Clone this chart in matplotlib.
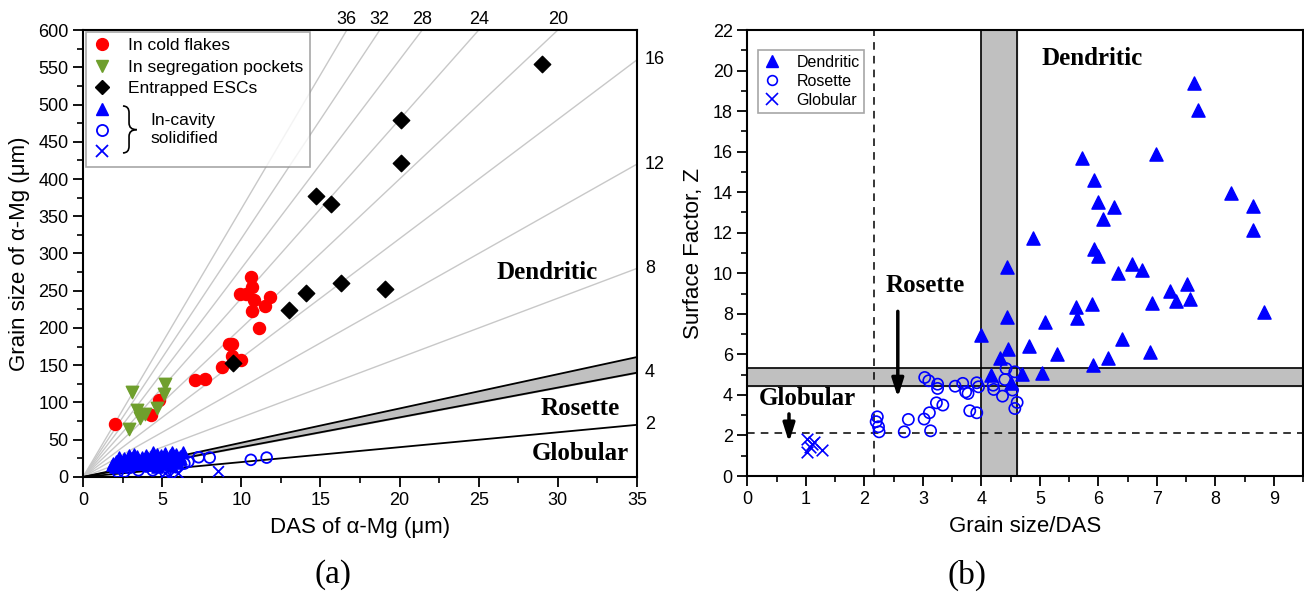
import matplotlib
matplotlib.use("Agg")
import matplotlib.pyplot as plt
from matplotlib.lines import Line2D
from matplotlib.path import Path
from matplotlib.patches import PathPatch
from matplotlib.ticker import MultipleLocator

plt.rcParams['font.family'] = ['Liberation Sans', 'DejaVu Sans']

# ---- (a) grain size vs DAS ----
cold_das = [2.0, 4.3, 4.8, 7.7, 8.8, 9.2, 9.4, 9.4, 10.0, 11.1, 10.6, 10.7, 9.9, 10.3, 10.8, 11.8, 11.5, 10.65, 7.1]
cold_grain = [71, 83, 104, 132, 148, 178, 178, 163, 157, 200, 268, 255, 246, 246, 238, 241, 229, 223, 130]

seg_das = [3.1, 2.9, 3.4, 3.6, 3.9, 4.65, 5.1, 5.2]
seg_grain = [114, 64, 90, 79, 85, 93, 112, 125]

esc_das = [9.5, 13.0, 14.1, 16.3, 19.1, 14.7, 15.65, 20.1, 20.1, 29.0]
esc_grain = [153, 224, 247, 260, 253, 377, 367, 479, 422, 555]

cav_tri_das = [1.8, 1.9, 2.0, 2.1, 2.2, 2.3, 2.4, 2.5, 2.6, 2.7, 2.8, 2.9, 3.0, 3.1,
               3.2, 3.3, 3.4, 3.5, 3.6, 3.7, 3.8, 3.9, 4.0, 4.1, 4.2, 4.3, 4.4, 4.5,
               4.6, 4.7, 4.8, 4.9, 5.0, 5.1, 5.2, 5.3, 5.4, 5.5, 5.6, 5.7, 5.8, 5.9,
               6.0, 6.1, 6.2, 6.3, 2.3, 2.9, 3.5, 4.1, 4.7, 5.3, 5.9, 3.2, 4.4, 5.6]
cav_tri_grain = [16, 19, 14, 21, 17, 24, 15, 20, 25, 18, 22, 16, 26, 20,
                 24, 18, 28, 22, 19, 27, 23, 17, 30, 25, 21, 28, 33, 19,
                 26, 31, 22, 29, 18, 27, 32, 24, 20, 29, 33, 22, 26, 31,
                 19, 28, 24, 33, 27, 29, 17, 23, 14, 21, 25, 31, 16, 15]

cav_circ_das = [2.2, 2.6, 2.9, 3.5, 4.0, 4.4, 5.2, 5.9, 6.4, 6.65, 7.3, 8.0, 10.6, 11.6]
cav_circ_grain = [7, 7, 12, 9, 14, 9, 7, 13, 18, 20.5, 26.5, 26, 23, 26]

cav_x_das = [5.2, 5.5, 6.0, 8.5]
cav_x_grain = [5, 2, 5, 8.5]

ratio_lines = [8, 12, 16, 20, 24, 28, 32, 36]
ratio_top_labels = [36, 32, 28, 24, 20]
ratio_side_labels = [16, 12, 8, 4, 2]
band_ratio = (4.0, 4.6)

# ---- (b) surface factor vs grain size/DAS ----
dend_r = [7.63, 7.70, 5.72, 6.98, 5.93, 6.00, 6.26, 6.08, 8.27, 8.64, 8.65, 4.88, 5.93,
          6.00, 4.44, 6.57, 6.74, 6.34, 7.52, 7.22, 7.56, 7.33, 6.91, 8.83, 5.62, 5.89,
          5.63, 4.43, 5.09, 6.41, 4.81, 4.45, 5.29, 6.88, 6.17, 4.32, 5.91, 4.70, 5.04,
          4.17, 4.50, 4.00]
dend_z = [19.37, 18.06, 15.70, 15.86, 14.60, 13.50, 13.27, 12.70, 13.97, 13.30, 12.15, 11.76, 11.20,
          10.85, 10.30, 10.44, 10.15, 10.00, 9.46, 9.13, 8.75, 8.64, 8.54, 8.09, 8.34, 8.50,
          7.77, 7.85, 7.60, 6.78, 6.42, 6.26, 6.00, 6.12, 5.83, 5.80, 5.47, 5.02, 5.06,
          4.98, 4.57, 6.95]

ros_r = [2.22, 2.20, 2.24, 2.25, 2.68, 2.75, 3.02, 3.11, 3.13, 3.23, 3.34, 3.03, 3.10, 3.25,
         3.25, 3.55, 3.68, 3.73, 3.77, 3.80, 3.92, 3.92, 3.95, 4.20, 4.21, 4.36, 4.40, 4.42,
         4.57, 4.53, 4.61, 4.57]
ros_z = [2.92, 2.68, 2.43, 2.18, 2.18, 2.79, 2.81, 3.12, 2.23, 3.61, 3.50, 4.86, 4.70, 4.53,
         4.32, 4.43, 4.57, 4.15, 4.07, 3.22, 3.12, 4.60, 4.40, 4.48, 4.27, 3.94, 4.76, 5.30,
         5.14, 4.24, 3.63, 3.33]

glob_r = [1.01, 1.10, 1.14, 1.02, 1.07, 1.27]
glob_z = [1.81, 1.58, 1.69, 1.20, 1.44, 1.28]

vband = (4.0, 4.6)
hband = (4.43, 5.35)
r_dash = 2.17
z_dash = 2.12

BLUE = '#0000ff'
RED = '#ff0000'
GREEN = '#6f9f2d'
LGRAY = '#c8c8c8'
BAND = '#c0c0c0'

fig = plt.figure(figsize=(13.04, 6.04), dpi=100)
ax1 = fig.add_axes([0.0637, 0.2103, 0.4248, 0.740])
ax2 = fig.add_axes([0.5732, 0.2119, 0.4262, 0.7384])

for ax in (ax1, ax2):
    for s in ax.spines.values():
        s.set_linewidth(1.5)
    ax.tick_params(which='major', direction='out', length=7, width=1.3, labelsize=13)
    ax.tick_params(which='minor', direction='out', length=4, width=1.2)

# ---------- panel (a) ----------
ax1.set_xlim(0, 35)
ax1.set_ylim(0, 600)
xe = [0, 35]
for k in ratio_lines:
    ax1.plot(xe, [0, k * 35], color=LGRAY, lw=1, zorder=1)
ax1.fill_between(xe, [0, band_ratio[0] * 35], [0, band_ratio[1] * 35], color=BAND, zorder=1)
for k in (band_ratio[0], band_ratio[1], 2):
    ax1.plot(xe, [0, k * 35], color='black', lw=1.3, zorder=2)

for k in ratio_top_labels:
    ax1.text(600 / k, 603, str(k), ha='center', va='bottom', fontsize=13, clip_on=False)
for k in ratio_side_labels:
    ax1.text(35.5, k * 35, str(k), ha='left', va='center', fontsize=13, clip_on=False)

ax1.scatter(cold_das, cold_grain, s=75, marker='o', color=RED, zorder=3)
ax1.scatter(seg_das, seg_grain, s=80, marker='v', color=GREEN, zorder=3)
ax1.scatter(esc_das, esc_grain, s=70, marker='D', color='black', zorder=4)
ax1.scatter(cav_tri_das, cav_tri_grain, s=65, marker='^', color=BLUE, zorder=3)
ax1.scatter(cav_circ_das, cav_circ_grain, s=60, marker='o', facecolor='none', edgecolor=BLUE, lw=1.3, zorder=3)
ax1.scatter(cav_x_das, cav_x_grain, s=60, marker='x', color=BLUE, lw=1.3, zorder=3)

serif = ['Liberation Serif', 'DejaVu Serif']
ax1.text(29.3, 275, 'Dendritic', family=serif, weight='bold', fontsize=18, ha='center', va='center')
ax1.text(31.4, 92, 'Rosette', family=serif, weight='bold', fontsize=18, ha='center', va='center')
ax1.text(31.4, 31, 'Globular', family=serif, weight='bold', fontsize=18, ha='center', va='center')

ax1.xaxis.set_major_locator(MultipleLocator(5))
ax1.xaxis.set_minor_locator(MultipleLocator(2.5))
ax1.yaxis.set_major_locator(MultipleLocator(50))
ax1.yaxis.set_minor_locator(MultipleLocator(25))
ax1.set_xlabel('DAS of α-Mg (μm)', fontsize=16, labelpad=6)
ax1.set_ylabel('Grain size of α-Mg (μm)', fontsize=16, labelpad=6)

h1 = [Line2D([], [], ls='none', marker='o', color=RED, ms=8.5),
      Line2D([], [], ls='none', marker='v', color=GREEN, ms=9),
      Line2D([], [], ls='none', marker='D', color='black', ms=7.5),
      Line2D([], [], ls='none', marker='^', color=BLUE, ms=8.5),
      Line2D([], [], ls='none', marker='o', mfc='none', mec=BLUE, mew=1.3, ms=8),
      Line2D([], [], ls='none', marker='x', color=BLUE, mew=1.3, ms=8)]
l1 = ['In cold flakes', 'In segregation pockets', 'Entrapped ESCs', ' ', ' ', ' ']
leg1 = ax1.legend(h1, l1, loc='upper left', bbox_to_anchor=(0.005, 0.995), borderaxespad=0,
                  fontsize=12.5, frameon=True, fancybox=False, edgecolor='#909090',
                  labelspacing=0.36, handletextpad=0.9, handlelength=1.2, borderpad=0.35)
leg1.get_frame().set_linewidth(1.2)
leg1.set_zorder(5)

# curly brace for the in-cavity group
x0, xm, x1 = 0.072, 0.083, 0.097
yt, yb, ym = 0.830, 0.725, 0.777
codes = [Path.MOVETO, Path.CURVE3, Path.CURVE3, Path.LINETO, Path.CURVE3, Path.CURVE3]
for ya, sgn in ((yt, -1), (yb, 1)):
    verts = [(x0, ya), (xm, ya), (xm, ya + sgn * 0.015), (xm, ym - sgn * 0.015), (xm, ym), (x1, ym)]
    ax1.add_patch(PathPatch(Path(verts, codes), fill=False, lw=1.2, color='black',
                            transform=ax1.transAxes, zorder=6))
ax1.text(0.121, 0.778, 'In-cavity\nsolidified', transform=ax1.transAxes, fontsize=12.5,
         ha='left', va='center', linespacing=1.25, zorder=6)

# ---------- panel (b) ----------
ax2.set_xlim(0, 9.5)
ax2.set_ylim(0, 22)
ax2.axvspan(vband[0], vband[1], color=BAND, zorder=1)
ax2.axhspan(hband[0], hband[1], color=BAND, zorder=1)
for v in vband:
    ax2.axvline(v, color='black', lw=1.2, zorder=2)
for h in hband:
    ax2.axhline(h, color='black', lw=1.2, zorder=2)
ax2.axvline(r_dash, color='black', lw=1.1, ls=(0, (5, 4)), zorder=2)
ax2.axhline(z_dash, color='black', lw=1.1, ls=(0, (5, 4)), zorder=2)

ax2.scatter(dend_r, dend_z, s=90, marker='^', color=BLUE, zorder=3)
ax2.scatter(ros_r, ros_z, s=65, marker='o', facecolor='none', edgecolor=BLUE, lw=1.2, zorder=3)
ax2.scatter(glob_r, glob_z, s=70, marker='x', color=BLUE, lw=1.2, zorder=3)

ax2.text(5.9, 20.58, 'Dendritic', family=serif, weight='bold', fontsize=18, ha='center', va='center')
ax2.text(3.03, 9.4, 'Rosette', family=serif, weight='bold', fontsize=18, ha='center', va='center')
ax2.text(1.03, 3.84, 'Globular', family=serif, weight='bold', fontsize=18, ha='center', va='center')
ax2.annotate('', xy=(2.57, 3.74), xytext=(2.57, 8.26),
             arrowprops=dict(arrowstyle='-|>,head_width=0.35,head_length=1.1', color='black', lw=2.5))
ax2.annotate('', xy=(0.71, 1.53), xytext=(0.71, 3.2),
             arrowprops=dict(arrowstyle='-|>,head_width=0.35,head_length=1.1', color='black', lw=2.5))

ax2.xaxis.set_major_locator(MultipleLocator(1))
ax2.xaxis.set_minor_locator(MultipleLocator(0.5))
ax2.yaxis.set_major_locator(MultipleLocator(2))
ax2.yaxis.set_minor_locator(MultipleLocator(1))
ax2.set_xlabel('Grain size/DAS', fontsize=16, labelpad=6)
ax2.set_ylabel('Surface Factor, Z', fontsize=16, labelpad=6)

h2 = [Line2D([], [], ls='none', marker='^', color=BLUE, ms=8.5),
      Line2D([], [], ls='none', marker='o', mfc='none', mec=BLUE, mew=1.2, ms=7),
      Line2D([], [], ls='none', marker='x', color=BLUE, mew=1.2, ms=8)]
leg2 = ax2.legend(h2, ['Dendritic', 'Rosette', 'Globular'], loc='upper left',
                  bbox_to_anchor=(0.019, 0.955), borderaxespad=0, fontsize=11.5,
                  fancybox=False, edgecolor='#909090', labelspacing=0.25,
                  handletextpad=0.9, handlelength=1.2, borderpad=0.3)
leg2.get_frame().set_linewidth(1.2)

fig.text(0.2554, 0.048, '(a)', family=serif, fontsize=24, ha='center', va='center')
fig.text(0.7416, 0.048, '(b)', family=serif, fontsize=24, ha='center', va='center')

fig.savefig('out.png', dpi=100)
